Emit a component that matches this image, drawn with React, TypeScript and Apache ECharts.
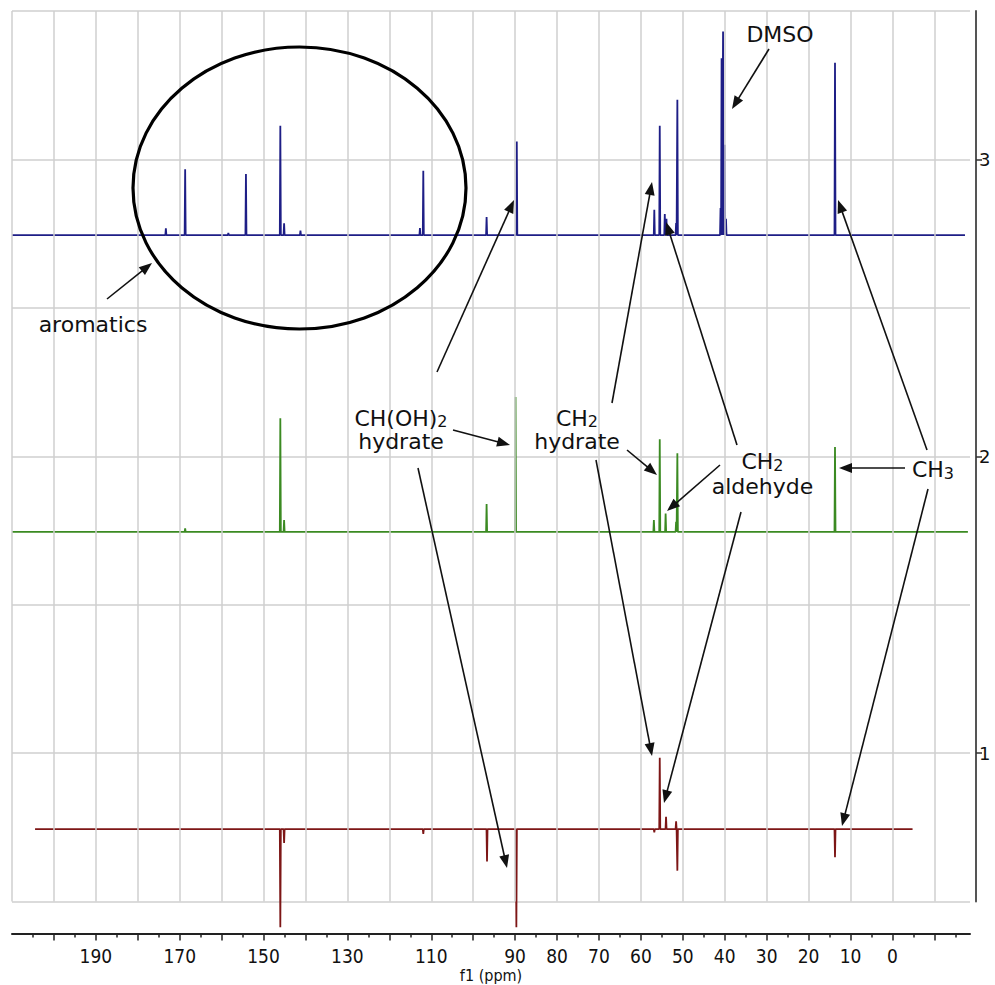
import React, { useEffect, useRef } from "react";
import * as echarts from "echarts";

// ---- axis ranges / ticks ----
const X_MIN = -18.5;
const X_MAX = 210;
const Y_MIN = 0.5;
const Y_MAX = 3.5;

const xMajorTicks = [200, 190, 180, 170, 160, 150, 140, 130, 120, 110, 100, 90, 80, 70, 60, 50, 40, 30, 20, 10, 0, -10];
const xMinorTicks = [205, 195, 185, 175, 165, 155, 145, 135, 125, 115, 105, 95, 85, 75, 65, 55, 45, 35, 25, 15, 5, -5, -15];
const xTickLabels = [190, 170, 150, 130, 110, 90, 80, 70, 60, 50, 40, 30, 20, 10, 0];
const xGridLines = [210, 200, 190, 180, 170, 160, 150, 140, 130, 120, 110, 100, 90, 80, 70, 60, 50, 40, 30, 20, 10, 0, -10];
const yTickLabels = [1, 2, 3];

// ---- spectra: [ppm, intensity on stacked axis] ----
const topBaseline = 2.745;
const topRange = [210, -17.3];
const topPeaks: [number, number][] = [
  [173.3, 2.768],
  [168.7, 2.967],
  [158.4, 2.752],
  [154.2, 2.951],
  [146.0, 3.113],
  [145.1, 2.785],
  [141.2, 2.76],
  [112.7, 2.769],
  [111.9, 2.962],
  [96.8, 2.806],
  [89.6, 3.06],
  [56.8, 2.83],
  [55.5, 3.113],
  [54.3, 2.816],
  [53.9, 2.8],
  [51.6, 2.786],
  [51.3, 3.201],
  [41.0, 2.836],
  [40.75, 3.341],
  [40.4, 3.431],
  [40.0, 3.049],
  [39.7, 2.8],
  [13.7, 3.326],
];

const midBaseline = 1.745;
const midRange = [210, -18];
const midPeaks: [number, number][] = [
  [168.7, 1.757],
  [146.0, 2.128],
  [145.1, 1.785],
  [96.8, 1.839],
  [89.9, 2.2],
  [56.9, 1.785],
  [55.5, 2.057],
  [54.1, 1.807],
  [51.6, 1.779],
  [51.3, 2.01],
  [13.7, 2.031],
];

const lowBaseline = 0.744;
const lowRange = [204.5, -4.8];
const lowPeaks: [number, number][] = [
  [146.0, 0.413],
  [145.1, 0.697],
  [111.9, 0.728],
  [96.7, 0.635],
  [89.7, 0.413],
  [56.8, 0.733],
  [55.5, 0.984],
  [54.0, 0.785],
  [51.6, 0.77],
  [51.3, 0.604],
  [13.7, 0.649],
];

function spectrum(range: number[], base: number, peaks: [number, number][]) {
  const w = 0.12;
  const d: number[][] = [[range[0], base]];
  for (const [p, h] of peaks) {
    d.push([p + w, base], [p, h], [p - w, base]);
  }
  d.push([range[1], base]);
  return d;
}

const ANN_FONT = "'DejaVu Sans', Verdana, sans-serif";
const INK = "#111";

function arrow(x1: number, y1: number, x2: number, y2: number) {
  const dx = x2 - x1;
  const dy = y2 - y1;
  const L = Math.hypot(dx, dy);
  const ux = dx / L;
  const uy = dy / L;
  const hl = 13;
  const hw = 5;
  const bx = x2 - ux * hl;
  const by = y2 - uy * hl;
  return [
    {
      type: "line",
      silent: true,
      z: 100,
      shape: { x1, y1, x2: bx + ux * 2, y2: by + uy * 2 },
      style: { stroke: INK, lineWidth: 1.6 },
    },
    {
      type: "polygon",
      silent: true,
      z: 100,
      shape: {
        points: [
          [x2, y2],
          [bx - uy * hw, by + ux * hw],
          [bx + uy * hw, by - ux * hw],
        ],
      },
      style: { fill: INK },
    },
  ];
}

function label(text: string, x: number, y: number) {
  return {
    type: "text",
    silent: true,
    z: 100,
    x,
    y,
    style: {
      text,
      fill: INK,
      fontSize: 22,
      fontFamily: ANN_FONT,
      align: "center",
      verticalAlign: "middle",
      textAlign: "center",
      textVerticalAlign: "middle",
    },
  };
}

// chemical label with a subscript digit, optionally followed by a second line
function chem(main: string, sub: string, second: string | null, x: number, y: number, lh: number) {
  const text = `{n|${main}}{s|${sub}}` + (second ? `\n{n|${second}}` : "");
  return {
    type: "text",
    silent: true,
    z: 100,
    x,
    y,
    style: {
      text,
      fill: INK,
      fontSize: 22,
      fontFamily: ANN_FONT,
      align: "center",
      verticalAlign: "middle",
      textAlign: "center",
      textVerticalAlign: "middle",
      rich: {
        n: { fontSize: 22, fontFamily: ANN_FONT, fill: INK, lineHeight: lh, verticalAlign: "middle" },
        s: { fontSize: 16, fontFamily: ANN_FONT, fill: INK, lineHeight: lh, verticalAlign: "bottom" },
      },
    },
  };
}

export default function App() {
  const ref = useRef<HTMLDivElement>(null);

  useEffect(() => {
    if (!ref.current) return;
    const chart = echarts.init(ref.current, undefined, { renderer: "svg" });

    const gridStyle = { color: "#cfcfcf", width: 1.5, type: "solid" as const };
    const tickFont = "'Liberation Sans Narrow', 'DejaVu Sans Condensed', 'Roboto Condensed', 'Open Sans', sans-serif";

    const graphics: any[] = [
      {
        type: "ellipse",
        silent: true,
        z: 100,
        shape: { cx: 299.5, cy: 188, rx: 166.5, ry: 141 },
        style: { fill: "none", stroke: "#000", lineWidth: 3.2 },
      },
      label("aromatics", 93, 324),
      label("DMSO", 780, 34),
      chem("CH(OH)", "2", "hydrate", 401, 429.5, 23),
      chem("CH", "2", "hydrate", 577, 429.5, 23),
      chem("CH", "2", "aldehyde", 762.5, 473.5, 25),
      chem("CH", "3", null, 933, 469, 25),
      ...arrow(107, 299, 152, 263),
      ...arrow(769, 49, 732, 109),
      ...arrow(437, 372, 514, 200),
      ...arrow(453, 430, 510, 445),
      ...arrow(418, 468, 507, 868),
      ...arrow(612, 403, 652, 182),
      ...arrow(627, 450, 657, 475),
      ...arrow(596, 460, 652, 756),
      ...arrow(737, 445, 666, 222),
      ...arrow(720, 465, 667, 511),
      ...arrow(741, 512, 664, 803),
      ...arrow(905, 468, 839, 468),
      ...arrow(927, 450, 838, 200),
      ...arrow(928, 489, 842, 826),
    ];

    const lineSeries = (data: number[][], color: string) => ({
      type: "line",
      data,
      showSymbol: false,
      symbol: "none",
      clip: false,
      z: 3,
      silent: true,
      lineStyle: { color, width: 1.8 },
      xAxisIndex: 0,
      yAxisIndex: 0,
    });

    chart.setOption({
      animation: false,
      backgroundColor: "#ffffff",
      grid: {
        left: 12,
        right: 25,
        top: 11,
        bottom: 83.5,
        containLabel: false,
        outerBoundsMode: "none",
      },
      xAxis: [
        {
          type: "value",
          min: X_MIN,
          max: X_MAX,
          inverse: true,
          position: "bottom",
          offset: 32,
          axisLine: { show: true, onZero: false, lineStyle: { color: "#222", width: 2 } },
          axisTick: { show: true, customValues: xMajorTicks, length: 7, lineStyle: { color: "#222", width: 1.5 } },
          axisLabel: {
            show: true,
            customValues: xTickLabels,
            fontSize: 19,
            fontFamily: tickFont,
            color: "#111",
            margin: 13,
          },
          splitLine: { show: false },
          name: "f1 (ppm)",
          nameLocation: "middle",
          nameGap: 34,
          nameMoveOverlap: false,
          nameTextStyle: { fontSize: 16, fontFamily: tickFont, color: "#111" },
        },
        {
          type: "value",
          min: X_MIN,
          max: X_MAX,
          inverse: true,
          position: "bottom",
          offset: 32,
          axisLine: { show: false, onZero: false },
          axisTick: { show: true, customValues: xMinorTicks, length: 4, lineStyle: { color: "#222", width: 1.5 } },
          axisLabel: { show: false },
          splitLine: { show: false },
        },
      ],
      yAxis: [
        {
          type: "value",
          min: Y_MIN,
          max: Y_MAX,
          interval: 0.5,
          position: "right",
          axisLine: { show: false, onZero: false },
          axisTick: { show: false },
          axisLabel: { show: false },
          splitLine: { show: true, lineStyle: gridStyle },
        },
        {
          type: "value",
          min: Y_MIN,
          max: Y_MAX,
          position: "right",
          offset: 6,
          axisLine: { show: true, onZero: false, lineStyle: { color: "#555", width: 2 } },
          axisTick: { show: true, customValues: yTickLabels, length: 6, lineStyle: { color: "#333", width: 1.5 } },
          axisLabel: {
            show: true,
            customValues: yTickLabels,
            fontSize: 18,
            fontFamily: ANN_FONT,
            color: "#111",
            margin: 3,
          },
          splitLine: { show: false },
        },
      ],
      series: [
        {
          type: "line",
          data: [[X_MAX, Y_MIN]],
          showSymbol: false,
          symbol: "none",
          z: 1,
          silent: true,
          lineStyle: { opacity: 0 },
          markLine: {
            silent: true,
            symbol: ["none", "none"],
            label: { show: false },
            lineStyle: gridStyle,
            animation: false,
            data: xGridLines.map((v) => ({ xAxis: v })),
          },
        },
        lineSeries(spectrum(topRange, topBaseline, topPeaks), "#1e1e86"),
        lineSeries(spectrum(midRange, midBaseline, midPeaks), "#3b8a22"),
        lineSeries(spectrum(lowRange, lowBaseline, lowPeaks), "#7d1616"),
      ],
      graphic: graphics,
    });

    return () => chart.dispose();
  }, []);

  return (
    <div
      ref={ref}
      style={{ position: "fixed", left: 0, top: 0, width: 995, height: 985, background: "#fff" }}
    />
  );
}
